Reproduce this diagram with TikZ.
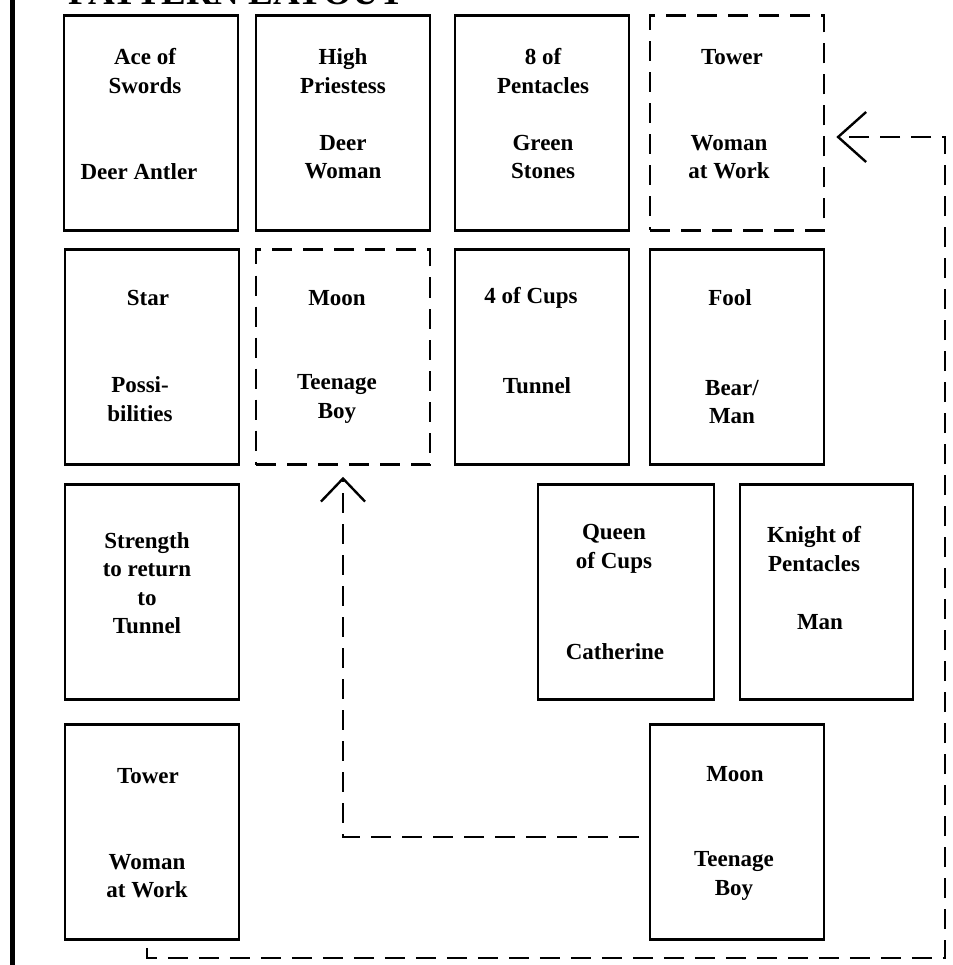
\documentclass[tikz,border=0pt]{standalone}
\usepackage{fontspec}
\setmainfont{Liberation Serif}
\usetikzlibrary{arrows.meta}
\begin{document}
\begin{tikzpicture}[x=1pt,y=-1pt,
  card/.style={draw, line width=2.6pt, minimum width=174pt, minimum height=215pt, inner sep=0pt},
  dcard/.style={card, dash pattern=on 20pt off 11pt},
  lbl/.style={font=\fontsize{23}{28.5}\selectfont\bfseries, align=center, inner sep=0pt},
  conn/.style={line width=2.4pt, dash pattern=on 20pt off 11pt},
]
\useasboundingbox[fill=white] (0,0) rectangle (952,965);

% title (cut off at the top edge, as in the reference)
\node[font=\fontsize{37}{40}\selectfont\bfseries, anchor=base, inner sep=0pt] (title) at (236,4.5) {PATTERN LAYOUT};

% left margin rule
\coordinate (lt) at (12,0);
\coordinate (lb) at (12,965);
\draw[line width=5pt] (lt) -- (lb);

% row 1
\node[card]  (ace)    at (151,123) {};
\node[card]  (hp)     at (343,123) {};
\node[card]  (pent8)  at (542,123) {};
\node[dcard] (tower1) at (737,123) {};
% row 2
\node[card]  (star)   at (152,357) {};
\node[dcard] (moon2)  at (343,357) {};
\node[card]  (cups4)  at (542,357) {};
\node[card]  (fool)   at (737,357) {};
% row 3
\node[card]  (strength) at (152,592) {};
\node[card, minimum width=176pt]  (queen)  at (626,592) {};
\node[card, minimum width=173pt]  (knight) at (826.5,592) {};
% row 4
\node[card]  (tower4) at (152,832) {};
\node[card]  (moon4)  at (737,832) {};

% labels
\node[lbl] (aceT)  at (145,71)  {Ace of\\Swords};
\node[lbl] (aceB)  at (139,172) {Deer Antler};
\node[lbl] (hpT)   at (343,71)  {High\\Priestess};
\node[lbl] (hpB)   at (343,157) {Deer\\Woman};
\node[lbl] (p8T)   at (543,71)  {8 of\\Pentacles};
\node[lbl] (p8B)   at (543,157) {Green\\Stones};
\node[lbl] (t1T)   at (732,57)  {Tower};
\node[lbl] (t1B)   at (729,157) {Woman\\at Work};

\node[lbl] (starT) at (148,298) {Star};
\node[lbl] (starB) at (140,399) {Possi-\\bilities};
\node[lbl] (m2T)   at (337,298) {Moon};
\node[lbl] (m2B)   at (337,399) {Teenage\\Boy};
\node[lbl] (c4T)   at (531,298) {4 of Cups};
\node[lbl] (c4B)   at (537,386) {Tunnel};
\node[lbl] (foolT) at (730,298) {Fool};
\node[lbl] (foolB) at (732,402) {Bear/\\Man};

\node[lbl] (strT)  at (147,583) {Strength\\to return\\to\\Tunnel};
\node[lbl] (qT)    at (614,549) {Queen\\of Cups};
\node[lbl] (qB)    at (615,652) {Catherine};
\node[lbl] (kT)    at (814,549) {Knight of\\Pentacles};
\node[lbl] (kB)    at (820,622) {Man};

\node[lbl] (t4T)   at (148,776) {Tower};
\node[lbl] (t4B)   at (147,876) {Woman\\at Work};
\node[lbl] (m4T)   at (735,774) {Moon};
\node[lbl] (m4B)   at (734,876) {Teenage\\Boy};

% connectors
\draw[conn, -{Straight Barb[length=23pt,width=44pt]}]
  ([xshift=-10pt,yshift=-5pt]moon4.west) -| ([yshift=-11pt]moon2.south);

\coordinate (br) at (945,958);
\draw[conn, -{Straight Barb[length=28pt,width=50pt]}]
  ([xshift=-5pt,yshift=-7pt]tower4.south) |- (br) |- ([xshift=11pt,yshift=-14pt]tower1.east);
\end{tikzpicture}
\end{document}
